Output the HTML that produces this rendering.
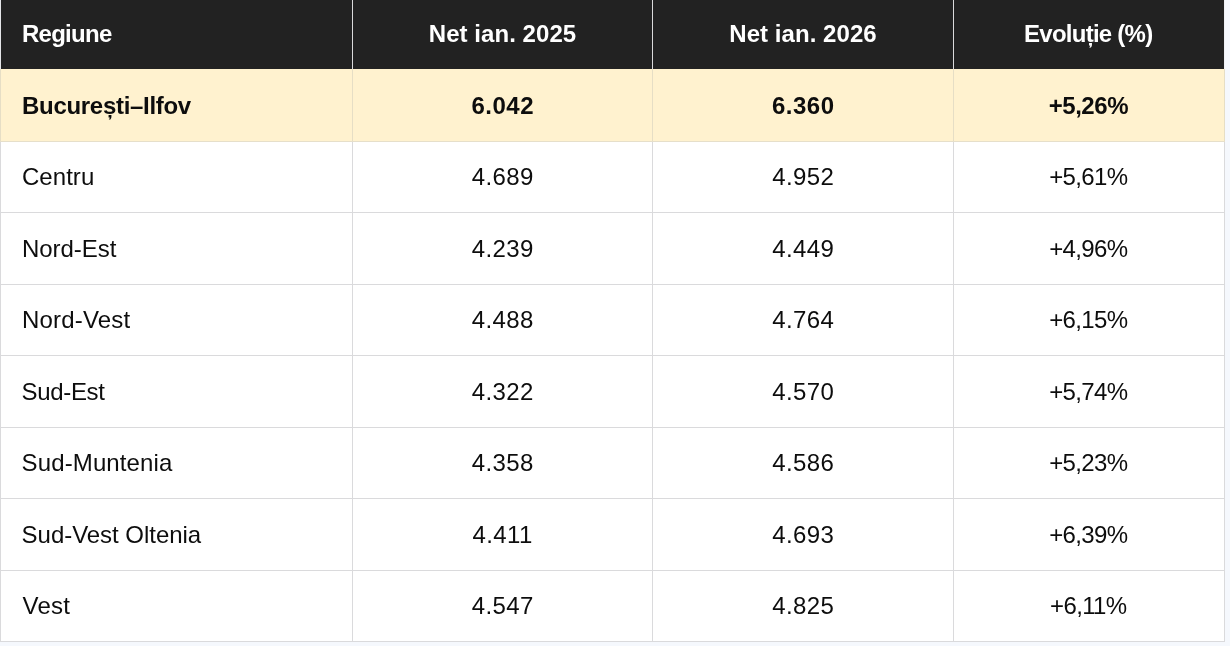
<!DOCTYPE html>
<html lang="ro">
<head>
<meta charset="utf-8">
<title>Câștig salarial net pe regiuni</title>
<style>
html,body{margin:0;padding:0;}
body{background:#f5f8fd;width:1230px;height:646px;overflow:hidden;position:relative;font-family:"Liberation Sans",sans-serif;font-size:24px;color:#0d0d0d;}
.tbl{position:absolute;left:0;top:0;width:1225px;height:642px;background:#fff;}
.r{position:absolute;left:0;width:1225px;}
.c{position:absolute;top:0;height:100%;text-align:center;white-space:nowrap;}
.c.l{text-align:left;}
.c span{display:inline-block;position:relative;}
.h{background:#222;color:#fff;font-weight:bold;}
.y{background:#fff2cf;font-weight:bold;}
.hb{position:absolute;left:0;width:1225px;height:1px;background:#dadadc;}
.vb{position:absolute;top:0;width:1px;height:642px;background:#dadadc;}
.vy{position:absolute;width:1px;background:#e6dec5;}

</style>
</head>
<body>
<div class="tbl">
<div class="r h" style="top:-1px;height:70px">
<div class="c l" style="left:1px;width:351px;line-height:70px"><span style="left:21px;top:0.0px;letter-spacing:-0.74px">Regiune</span></div>
<div class="c" style="left:353px;width:299px;line-height:70px"><span style="top:0.0px;left:0px;letter-spacing:0.05px;margin-left:0.05px">Net ian. 2025</span></div>
<div class="c" style="left:653px;width:300px;line-height:70px"><span style="top:0.0px;left:0px;letter-spacing:0.05px;margin-left:0.05px">Net ian. 2026</span></div>
<div class="c" style="left:954px;width:270px;line-height:70px"><span style="top:0.0px;left:-0.4px;letter-spacing:-0.75px;margin-left:-0.75px">Evoluție (%)</span></div>
</div>
<div class="r y" style="top:69px;height:72px">
<div class="c l" style="left:1px;width:351px;line-height:72px"><span style="left:21px;top:1.0px;letter-spacing:-0.3px">București–Ilfov</span></div>
<div class="c" style="left:353px;width:299px;line-height:72px"><span style="top:1.0px;left:0px;letter-spacing:0.5px;margin-left:0.5px">6.042</span></div>
<div class="c" style="left:653px;width:300px;line-height:72px"><span style="top:1.0px;left:0px;letter-spacing:0.5px;margin-left:0.5px">6.360</span></div>
<div class="c" style="left:954px;width:270px;line-height:72px"><span style="top:1.0px;left:-0.4px;letter-spacing:-0.46px;margin-left:-0.46px">+5,26%</span></div>
</div>
<div class="r" style="top:142px;height:70px">
<div class="c l" style="left:1px;width:351px;line-height:70px"><span style="left:21px;top:0.3px;letter-spacing:0.04px">Centru</span></div>
<div class="c" style="left:353px;width:299px;line-height:70px"><span style="top:0.3px;left:0px;letter-spacing:0.4px;margin-left:0.4px">4.689</span></div>
<div class="c" style="left:653px;width:300px;line-height:70px"><span style="top:0.3px;left:0px;letter-spacing:0.4px;margin-left:0.4px">4.952</span></div>
<div class="c" style="left:954px;width:270px;line-height:70px"><span style="top:0.3px;left:-0.4px;letter-spacing:-0.65px;margin-left:-0.65px">+5,61%</span></div>
</div>
<div class="r" style="top:213px;height:71px">
<div class="c l" style="left:1px;width:351px;line-height:71px"><span style="left:21px;top:0.3px;letter-spacing:-0.05px">Nord-Est</span></div>
<div class="c" style="left:353px;width:299px;line-height:71px"><span style="top:0.3px;left:0px;letter-spacing:0.4px;margin-left:0.4px">4.239</span></div>
<div class="c" style="left:653px;width:300px;line-height:71px"><span style="top:0.3px;left:0px;letter-spacing:0.4px;margin-left:0.4px">4.449</span></div>
<div class="c" style="left:954px;width:270px;line-height:71px"><span style="top:0.3px;left:-0.4px;letter-spacing:-0.65px;margin-left:-0.65px">+4,96%</span></div>
</div>
<div class="r" style="top:285px;height:70px">
<div class="c l" style="left:1px;width:351px;line-height:70px"><span style="left:21px;top:0.3px;letter-spacing:0.18px">Nord-Vest</span></div>
<div class="c" style="left:353px;width:299px;line-height:70px"><span style="top:0.3px;left:0px;letter-spacing:0.4px;margin-left:0.4px">4.488</span></div>
<div class="c" style="left:653px;width:300px;line-height:70px"><span style="top:0.3px;left:0px;letter-spacing:0.4px;margin-left:0.4px">4.764</span></div>
<div class="c" style="left:954px;width:270px;line-height:70px"><span style="top:0.3px;left:-0.4px;letter-spacing:-0.65px;margin-left:-0.65px">+6,15%</span></div>
</div>
<div class="r" style="top:356px;height:71px">
<div class="c l" style="left:1px;width:351px;line-height:71px"><span style="left:20.6px;top:0.3px;letter-spacing:-0.34px">Sud-Est</span></div>
<div class="c" style="left:353px;width:299px;line-height:71px"><span style="top:0.3px;left:0px;letter-spacing:0.4px;margin-left:0.4px">4.322</span></div>
<div class="c" style="left:653px;width:300px;line-height:71px"><span style="top:0.3px;left:0px;letter-spacing:0.4px;margin-left:0.4px">4.570</span></div>
<div class="c" style="left:954px;width:270px;line-height:71px"><span style="top:0.3px;left:-0.4px;letter-spacing:-0.65px;margin-left:-0.65px">+5,74%</span></div>
</div>
<div class="r" style="top:428px;height:70px">
<div class="c l" style="left:1px;width:351px;line-height:70px"><span style="left:20.6px;top:0.3px;letter-spacing:0.12px">Sud-Muntenia</span></div>
<div class="c" style="left:353px;width:299px;line-height:70px"><span style="top:0.3px;left:0px;letter-spacing:0.4px;margin-left:0.4px">4.358</span></div>
<div class="c" style="left:653px;width:300px;line-height:70px"><span style="top:0.3px;left:0px;letter-spacing:0.4px;margin-left:0.4px">4.586</span></div>
<div class="c" style="left:954px;width:270px;line-height:70px"><span style="top:0.3px;left:-0.4px;letter-spacing:-0.65px;margin-left:-0.65px">+5,23%</span></div>
</div>
<div class="r" style="top:499px;height:71px">
<div class="c l" style="left:1px;width:351px;line-height:71px"><span style="left:20.6px;top:0.3px;letter-spacing:-0.035px">Sud-Vest Oltenia</span></div>
<div class="c" style="left:353px;width:299px;line-height:71px"><span style="top:0.3px;left:0px;letter-spacing:0.4px;margin-left:0.4px">4.411</span></div>
<div class="c" style="left:653px;width:300px;line-height:71px"><span style="top:0.3px;left:0px;letter-spacing:0.4px;margin-left:0.4px">4.693</span></div>
<div class="c" style="left:954px;width:270px;line-height:71px"><span style="top:0.3px;left:-0.4px;letter-spacing:-0.65px;margin-left:-0.65px">+6,39%</span></div>
</div>
<div class="r" style="top:571px;height:70px">
<div class="c l" style="left:1px;width:351px;line-height:70px"><span style="left:21.6px;top:0.3px;letter-spacing:0.23px">Vest</span></div>
<div class="c" style="left:353px;width:299px;line-height:70px"><span style="top:0.3px;left:0px;letter-spacing:0.4px;margin-left:0.4px">4.547</span></div>
<div class="c" style="left:653px;width:300px;line-height:70px"><span style="top:0.3px;left:0px;letter-spacing:0.4px;margin-left:0.4px">4.825</span></div>
<div class="c" style="left:954px;width:270px;line-height:70px"><span style="top:0.3px;left:-0.4px;letter-spacing:-0.65px;margin-left:-0.65px">+6,11%</span></div>
</div>
<div class="vb" style="left:0px"></div>
<div class="vb" style="left:352px"></div>
<div class="vb" style="left:652px"></div>
<div class="vb" style="left:953px"></div>
<div class="vb" style="left:1224px"></div>
<div class="hb" style="top:141px"></div>
<div class="hb" style="top:212px"></div>
<div class="hb" style="top:284px"></div>
<div class="hb" style="top:355px"></div>
<div class="hb" style="top:427px"></div>
<div class="hb" style="top:498px"></div>
<div class="hb" style="top:570px"></div>
<div class="hb" style="top:641px"></div>
<div class="vy" style="left:0px;top:69px;height:72px"></div>
<div class="vy" style="left:352px;top:69px;height:72px"></div>
<div class="vy" style="left:652px;top:69px;height:72px"></div>
<div class="vy" style="left:953px;top:69px;height:72px"></div>
<div class="vy" style="left:1224px;top:69px;height:72px"></div>
<div class="hb" style="top:141px;background:#e6dfca"></div>
<div class="vb" style="left:0;height:69px;background:#e4e5e8"></div>
<div class="vb" style="left:1224px;height:69px;background:#eef0f4"></div>
</div>
</body>
</html>
